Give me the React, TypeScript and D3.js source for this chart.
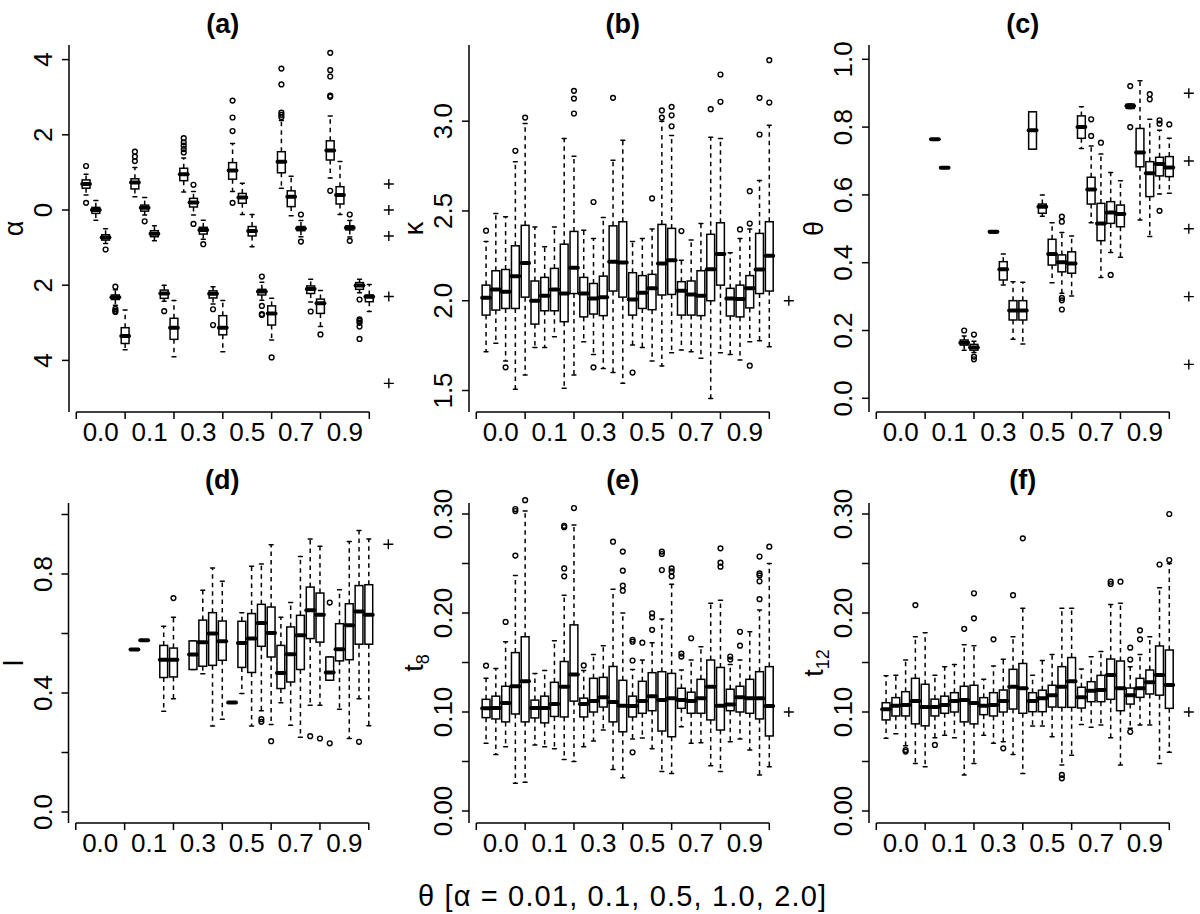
import React from "react";
import * as d3 from "d3";

// ---------------- DATA ----------------
const X_LABELS = ["0.0", "0.1", "0.3", "0.5", "0.7", "0.9"];

// each stat: [lowerWhisker, q1, median, q3, upperWhisker]; null = no box
type Stat = number[] | null;

// (a) log alpha
const A_STATS: Stat[] = [
  [0.40, 0.58, 0.69, 0.80, 0.95], [-0.27, -0.09, 0.0, 0.07, 0.25], [-0.89, -0.80, -0.73, -0.66, -0.50], [-2.53, -2.38, -2.32, -2.26, -2.12], [-3.72, -3.55, -3.35, -3.13, -2.66],
  [0.35, 0.56, 0.73, 0.83, 1.13], [-0.13, -0.03, 0.06, 0.13, 0.33], [-0.82, -0.71, -0.63, -0.55, -0.42], [-2.43, -2.35, -2.22, -2.13, -2.0], [-3.9, -3.44, -3.13, -2.88, -2.41],
  [0.48, 0.78, 0.95, 1.11, 1.38], [-0.13, 0.08, 0.20, 0.31, 0.49], [-0.78, -0.64, -0.53, -0.46, -0.27], [-2.50, -2.34, -2.23, -2.15, -2.04], [-3.77, -3.32, -3.13, -2.81, -2.41],
  [0.49, 0.82, 1.05, 1.26, 1.77], [-0.12, 0.18, 0.33, 0.44, 0.71], [-0.98, -0.69, -0.56, -0.44, -0.12], [-2.40, -2.26, -2.17, -2.11, -1.92], [-3.46, -3.06, -2.75, -2.55, -2.35],
  [0.58, 0.99, 1.28, 1.55, 2.38], [-0.15, 0.09, 0.35, 0.51, 0.90], [-0.71, -0.55, -0.49, -0.44, -0.28], [-2.45, -2.22, -2.10, -2.02, -1.84], [-3.10, -2.75, -2.48, -2.37, -2.14],
  [0.85, 1.33, 1.58, 1.84, 2.50], [-0.12, 0.16, 0.40, 0.62, 1.29], [-0.72, -0.53, -0.47, -0.42, -0.28], [-2.20, -2.11, -2.01, -1.93, -1.84], [-2.70, -2.44, -2.31, -2.26, -1.98],
];
const A_OUT: number[][] = [
  [1.17, 0.19], [], [-1.05], [-2.04, -2.63, -2.68, -2.71], [],
  [1.30, 1.42, 1.55], [-0.30], [], [-2.69], [],
  [1.53, 1.62, 1.71, 1.80, 1.91], [0.67, -0.37], [-0.91], [-2.64, -3.06], [],
  [2.10, 2.46, 2.91, 0.19], [], [], [-1.77, -2.55, -2.77, -2.79], [-3.92],
  [2.47, 2.53, 2.59, 3.34, 3.76], [], [-0.12, -0.84], [-2.70], [-3.31],
  [3.01, 3.04, 3.55, 3.72, 4.18, 0.51], [], [-0.12, -0.82], [-2.38, -2.91, -2.95, -3.0, -3.1, -3.43], [],
];
const A_TRUE = [0.69, 0.0, -0.69, -2.30, -4.61];

// (b) kappa
const B_STATS: Stat[] = [
  [1.716, 1.92, 2.017, 2.087, 2.33], [1.763, 1.948, 2.063, 2.167, 2.486], [1.664, 1.957, 2.05, 2.174, 2.468], [1.507, 1.957, 2.137, 2.306, 2.774], [1.586, 2.02, 2.21, 2.42, 2.987],
  [1.74, 1.87, 2.0, 2.11, 2.41], [1.74, 1.944, 2.028, 2.13, 2.30], [1.80, 1.944, 2.063, 2.18, 2.41], [1.512, 1.883, 2.04, 2.315, 2.904], [1.586, 2.04, 2.184, 2.386, 2.805],
  [1.772, 1.91, 2.04, 2.13, 2.393], [1.70, 1.926, 2.013, 2.096, 2.347], [1.623, 1.917, 2.019, 2.137, 2.464], [1.60, 2.054, 2.217, 2.417, 2.783], [1.54, 2.02, 2.213, 2.44, 2.894],
  [1.753, 1.92, 2.007, 2.156, 2.33], [1.74, 1.957, 2.045, 2.14, 2.347], [1.664, 1.95, 2.069, 2.147, 2.40], [1.636, 2.032, 2.208, 2.425, 3.0], [1.71, 2.035, 2.226, 2.403, 2.92],
  [1.725, 1.92, 2.056, 2.106, 2.226], [1.716, 1.92, 2.035, 2.11, 2.338], [1.68, 1.917, 2.028, 2.167, 2.43], [1.456, 2.0, 2.176, 2.37, 2.91], [1.71, 2.087, 2.26, 2.434, 2.904],
  [1.70, 1.915, 2.013, 2.069, 2.267], [1.67, 1.91, 2.009, 2.087, 2.347], [1.772, 1.96, 2.069, 2.14, 2.40], [1.777, 2.04, 2.174, 2.375, 2.67], [1.744, 2.054, 2.25, 2.44, 2.978],
];
const B_OUT: number[][] = [
  [2.39], [], [1.629], [2.835], [3.02],
  [], [], [], [], [3.043, 3.126, 3.169],
  [], [2.55, 1.629], [], [3.13], [],
  [1.60], [], [2.57], [3.02, 3.06], [2.972, 3.033, 3.08],
  [2.388], [], [], [3.067], [3.108, 3.26],
  [], [2.397], [2.43, 2.61, 1.638], [2.926, 3.13], [3.104, 3.34],
];
const B_TRUE = [2.0];

// (c) theta
const C_STATS: Stat[] = [
  null, null, null, null, null,
  [0.764, 0.764, 0.764, 0.764, 0.764], [0.68, 0.68, 0.68, 0.68, 0.68], null, [0.142, 0.157, 0.164, 0.172, 0.184], [0.135, 0.142, 0.150, 0.159, 0.168],
  null, [0.488, 0.488, 0.491, 0.494, 0.494], [0.334, 0.349, 0.381, 0.403, 0.426], [0.174, 0.231, 0.259, 0.288, 0.344], [0.160, 0.231, 0.259, 0.288, 0.342],
  [0.735, 0.735, 0.791, 0.845, 0.845], [0.537, 0.546, 0.565, 0.573, 0.60], [0.341, 0.393, 0.426, 0.469, 0.518], [0.31, 0.373, 0.401, 0.423, 0.489], [0.302, 0.369, 0.398, 0.432, 0.479],
  [0.737, 0.767, 0.80, 0.833, 0.86], [0.518, 0.573, 0.616, 0.652, 0.744], [0.356, 0.465, 0.516, 0.575, 0.721], [0.43, 0.516, 0.548, 0.58, 0.666], [0.416, 0.506, 0.544, 0.570, 0.642],
  [0.855, 0.855, 0.862, 0.868, 0.868], [0.526, 0.683, 0.725, 0.796, 0.937], [0.477, 0.595, 0.664, 0.698, 0.823], [0.603, 0.656, 0.691, 0.711, 0.791], [0.605, 0.654, 0.681, 0.713, 0.767],
];
const C_OUT: number[][] = [
  [], [], [], [], [],
  [], [], [], [0.20], [0.188, 0.123, 0.115],
  [], [], [], [], [],
  [], [], [], [0.536, 0.521, 0.296, 0.289, 0.262], [],
  [], [0.823, 0.774], [0.754], [0.364], [],
  [0.921, 0.80], [], [0.897, 0.882], [0.82, 0.81, 0.553], [0.808],
];
const C_TRUE = [0.9, 0.7, 0.5, 0.3, 0.1];

// (d) l
const D_STATS: Stat[] = [
  null, null, null, null, null,
  [0.546, 0.546, 0.546, 0.546, 0.546], [0.577, 0.577, 0.577, 0.577, 0.577], null, [0.339, 0.452, 0.512, 0.56, 0.624], [0.381, 0.454, 0.512, 0.551, 0.655],
  null, [0.479, 0.479, 0.529, 0.575, 0.575], [0.465, 0.49, 0.571, 0.645, 0.745], [0.289, 0.493, 0.60, 0.67, 0.82], [0.312, 0.51, 0.574, 0.642, 0.776],
  [0.368, 0.368, 0.368, 0.368, 0.368], [0.398, 0.486, 0.568, 0.641, 0.67], [0.289, 0.469, 0.583, 0.667, 0.826], [0.34, 0.557, 0.635, 0.698, 0.834], [0.294, 0.521, 0.602, 0.689, 0.898],
  [0.367, 0.415, 0.467, 0.56, 0.655], [0.292, 0.437, 0.530, 0.622, 0.704], [0.251, 0.479, 0.594, 0.661, 0.859], [0.359, 0.583, 0.678, 0.756, 0.918], [0.359, 0.571, 0.663, 0.736, 0.893],
  [0.443, 0.443, 0.469, 0.521, 0.521], [0.345, 0.508, 0.547, 0.633, 0.747], [0.247, 0.512, 0.628, 0.70, 0.909], [0.381, 0.564, 0.674, 0.761, 0.946], [0.29, 0.564, 0.663, 0.764, 0.918],
];
const D_OUT: number[][] = [
  [], [], [], [], [],
  [], [], [], [], [0.719],
  [], [], [], [], [],
  [], [], [], [0.312, 0.303], [0.238],
  [], [], [], [0.255], [0.247],
  [0.704, 0.231], [], [], [0.236], [],
];
const D_TRUE = [0.9];

// (e) t8
const E_STATS: Stat[] = [
  [0.0684, 0.0943, 0.1037, 0.1128, 0.134], [0.057, 0.093, 0.104, 0.116, 0.144], [0.065, 0.090, 0.109, 0.126, 0.171], [0.028, 0.098, 0.126, 0.160, 0.238], [0.029, 0.090, 0.131, 0.176, 0.303],
  [0.0667, 0.094, 0.104, 0.112, 0.139], [0.065, 0.089, 0.104, 0.116, 0.142], [0.063, 0.0955, 0.108, 0.13, 0.172], [0.052, 0.095, 0.1256, 0.151, 0.218], [0.05, 0.111, 0.138, 0.188, 0.289],
  [0.065, 0.095, 0.108, 0.114, 0.142], [0.0707, 0.100, 0.111, 0.134, 0.158], [0.0818, 0.105, 0.115, 0.135, 0.167], [0.042, 0.090, 0.110, 0.146, 0.224], [0.0337, 0.080, 0.1064, 0.132, 0.20],
  [0.0727, 0.095, 0.106, 0.116, 0.143], [0.0737, 0.0987, 0.111, 0.131, 0.1525], [0.063, 0.1013, 0.116, 0.1397, 0.170], [0.04, 0.0808, 0.112, 0.1407, 0.194], [0.038, 0.075, 0.1138, 0.139, 0.229],
  [0.085, 0.1037, 0.112, 0.124, 0.1424], [0.0684, 0.0987, 0.111, 0.120, 0.1525], [0.069, 0.0987, 0.114, 0.133, 0.166], [0.0458, 0.092, 0.1256, 0.1525, 0.2098], [0.04, 0.0818, 0.1064, 0.145, 0.213],
  [0.07, 0.1013, 0.1077, 0.123, 0.148], [0.0727, 0.100, 0.115, 0.126, 0.1525], [0.0616, 0.0987, 0.114, 0.133, 0.181], [0.0364, 0.093, 0.114, 0.1407, 0.203], [0.0448, 0.0758, 0.106, 0.1458, 0.250],
];
const E_OUT: number[][] = [
  [0.1468], [], [0.191], [0.258, 0.303, 0.305], [0.314],
  [], [], [], [0.237, 0.245, 0.2866, 0.288], [0.306],
  [0.147], [], [], [0.272], [0.2225, 0.2276, 0.2428, 0.262],
  [0.152, 0.171, 0.173, 0.0593], [0.170], [0.183, 0.1956, 0.1997], [0.2434, 0.2596, 0.262], [0.237, 0.242, 0.245],
  [0.156, 0.159], [0.1745], [], [], [0.2468, 0.2508, 0.2653],
  [0.153, 0.156], [0.167, 0.181], [], [0.214, 0.232, 0.238, 0.240, 0.257], [0.267],
];
const E_TRUE = [0.1];

// (f) t12
const F_STATS: Stat[] = [
  [0.0734, 0.092, 0.1027, 0.1094, 0.1367], [0.078, 0.096, 0.1064, 0.1145, 0.137], [0.066, 0.096, 0.107, 0.1205, 0.1525], [0.048, 0.088, 0.111, 0.134, 0.176], [0.0448, 0.086, 0.105, 0.128, 0.180],
  [0.074, 0.096, 0.105, 0.113, 0.137], [0.0764, 0.0987, 0.107, 0.116, 0.1457], [0.074, 0.100, 0.111, 0.1195, 0.148], [0.0364, 0.090, 0.112, 0.126, 0.168], [0.048, 0.088, 0.109, 0.127, 0.167],
  [0.0764, 0.0973, 0.1064, 0.1145, 0.133], [0.0684, 0.096, 0.107, 0.1195, 0.1464], [0.070, 0.100, 0.111, 0.1222, 0.1532], [0.057, 0.103, 0.1256, 0.1431, 0.176], [0.038, 0.0987, 0.124, 0.149, 0.2047],
  [0.0859, 0.1003, 0.111, 0.1195, 0.137], [0.0859, 0.1003, 0.114, 0.122, 0.152], [0.075, 0.105, 0.117, 0.127, 0.158], [0.0465, 0.1047, 0.1256, 0.1458, 0.2047], [0.0562, 0.1047, 0.131, 0.155, 0.2047],
  [0.0875, 0.104, 0.1148, 0.125, 0.1434], [0.0845, 0.1104, 0.1215, 0.1306, 0.1558], [0.0868, 0.1104, 0.1222, 0.137, 0.161], [0.074, 0.1128, 0.1374, 0.1535, 0.2087], [0.0465, 0.1013, 0.124, 0.1515, 0.2098],
  [0.0835, 0.108, 0.1168, 0.1242, 0.1457], [0.0868, 0.1148, 0.124, 0.134, 0.158], [0.0868, 0.1182, 0.13, 0.1424, 0.176], [0.048, 0.117, 0.1374, 0.1667, 0.2256], [0.0593, 0.1037, 0.1273, 0.1626, 0.25],
];
const F_OUT: number[][] = [
  [], [], [0.0616, 0.0600], [0.208], [],
  [0.0667], [], [], [0.184], [0.1946, 0.2199],
  [], [0.1734], [0.0633], [0.218], [0.2754],
  [], [], [], [0.0364, 0.033], [],
  [], [], [], [0.2293, 0.2316], [0.2316],
  [0.153, 0.165, 0.080], [0.1734, 0.1825], [], [0.249], [0.2535, 0.30],
];
const F_TRUE = [0.1];

// y-axis ticks and labels
const A_TICKS = [-4, -2, 0, 2, 4];
const A_TICK_LABELS = ["4", "2", "0", "2", "4"];
const B_TICKS = [1.5, 2.0, 2.5, 3.0];
const B_TICK_LABELS = ["1.5", "2.0", "2.5", "3.0"];
const C_TICKS = [0, 0.2, 0.4, 0.6, 0.8, 1.0];
const C_TICK_LABELS = ["0.0", "0.2", "0.4", "0.6", "0.8", "1.0"];
const D_TICKS = [0, 0.2, 0.4, 0.6, 0.8, 1.0];
const D_TICK_LABELS = ["0.0", "", "0.4", "", "0.8", ""];
const T_TICKS = [0, 0.05, 0.1, 0.15, 0.2, 0.25, 0.3];
const T_TICK_LABELS = ["0.00", "", "0.10", "", "0.20", "", "0.30"];

const X_TITLE = "θ [α = 0.01, 0.1, 0.5, 1.0, 2.0]";

// ---------------- LAYOUT ----------------
const FONT = "'Liberation Sans', Arial, Helvetica, sans-serif";
const ROWS = [
  { top: 45, bottom: 412, titleY: 33 },
  { top: 503, bottom: 823, titleY: 489 },
];

type PanelDef = {
  title: string;
  ylab: string;
  sub?: string;
  stats: Stat[];
  outs: number[][];
  truth: number[];
  axisX: number;
  row: number;
  domain: [number, number];
  range: [number, number];
  ticks: number[];
  tickLabels: string[];
};

const PANELS: PanelDef[] = [
  { title: "(a)", ylab: "α", stats: A_STATS, outs: A_OUT, truth: A_TRUE, axisX: 69, row: 0, domain: [-4, 4], range: [360.4, 59.6], ticks: A_TICKS, tickLabels: A_TICK_LABELS },
  { title: "(b)", ylab: "κ", stats: B_STATS, outs: B_OUT, truth: B_TRUE, axisX: 469, row: 0, domain: [1.5, 3.0], range: [390.5, 121.2], ticks: B_TICKS, tickLabels: B_TICK_LABELS },
  { title: "(c)", ylab: "θ", stats: C_STATS, outs: C_OUT, truth: C_TRUE, axisX: 869, row: 0, domain: [0, 1], range: [398.3, 59.3], ticks: C_TICKS, tickLabels: C_TICK_LABELS },
  { title: "(d)", ylab: "l", stats: D_STATS, outs: D_OUT, truth: D_TRUE, axisX: 68.5, row: 1, domain: [0, 1], range: [812, 514.5], ticks: D_TICKS, tickLabels: D_TICK_LABELS },
  { title: "(e)", ylab: "t", sub: "8", stats: E_STATS, outs: E_OUT, truth: E_TRUE, axisX: 469, row: 1, domain: [0, 0.3], range: [811, 514], ticks: T_TICKS, tickLabels: T_TICK_LABELS },
  { title: "(f)", ylab: "t", sub: "12", stats: F_STATS, outs: F_OUT, truth: F_TRUE, axisX: 869, row: 1, domain: [0, 0.3], range: [811, 514], ticks: T_TICKS, tickLabels: T_TICK_LABELS },
];

const LW = 1.5;

function Panel({ p }: { p: PanelDef }) {
  const row = ROWS[p.row];
  const x0 = p.axisX + 7.3;
  const xs = d3.scaleLinear().domain([0, 30]).range([x0, x0 + 293]);
  const ys = d3.scaleLinear().domain(p.domain).range(p.range);
  const step = xs(1) - xs(0);
  const bw = step * 0.8;
  const cw = bw * 0.5;
  const groupTicks = d3.range(0, 31, 5);
  const midY = (row.top + row.bottom) / 2;

  return (
    <g>
      {/* title */}
      <text x={xs(15)} y={row.titleY} textAnchor="middle" fontFamily={FONT} fontWeight="bold" fontSize={27}>
        {p.title}
      </text>
      {/* y axis */}
      <line x1={p.axisX} x2={p.axisX} y1={row.top} y2={row.bottom} stroke="#000" strokeWidth={LW} />
      {p.ticks.map((t, i) => (
        <g key={"yt" + i}>
          <line x1={p.axisX - 7} x2={p.axisX} y1={ys(t)} y2={ys(t)} stroke="#000" strokeWidth={LW} />
          {p.tickLabels[i] !== "" && (
            <text transform={`translate(${p.axisX - 17},${ys(t)}) rotate(-90)`} textAnchor="middle" fontFamily={FONT} fontSize={26}>
              {p.tickLabels[i]}
            </text>
          )}
        </g>
      ))}
      {/* y label */}
      <text transform={`translate(${p.axisX - 46},${midY}) rotate(-90)`} textAnchor="middle" fontFamily={FONT} fontSize={27}>
        <tspan>{p.ylab}</tspan>
        {p.sub && (
          <tspan dy={6} fontSize={18}>
            {p.sub}
          </tspan>
        )}
      </text>
      {/* x axis */}
      <line x1={xs(0)} x2={xs(30)} y1={row.bottom} y2={row.bottom} stroke="#000" strokeWidth={LW} />
      {groupTicks.map((t) => (
        <line key={"xt" + t} x1={xs(t)} x2={xs(t)} y1={row.bottom} y2={row.bottom + 7} stroke="#000" strokeWidth={LW} />
      ))}
      {X_LABELS.map((l, i) => (
        <text key={"xl" + i} x={xs(i * 5 + 2.5)} y={row.bottom + 29} textAnchor="middle" fontFamily={FONT} fontSize={26}>
          {l}
        </text>
      ))}
      {/* boxes */}
      {p.stats.map((s, i) => {
        const cx = xs(i + 1);
        const outs = p.outs[i] || [];
        return (
          <g key={"b" + i}>
            {s && (
              <g>
                <line x1={cx} x2={cx} y1={ys(s[3])} y2={ys(s[4])} stroke="#000" strokeWidth={LW} strokeDasharray="4.5,4" />
                <line x1={cx} x2={cx} y1={ys(s[1])} y2={ys(s[0])} stroke="#000" strokeWidth={LW} strokeDasharray="4.5,4" />
                <line x1={cx - cw / 2} x2={cx + cw / 2} y1={ys(s[4])} y2={ys(s[4])} stroke="#000" strokeWidth={LW} strokeLinecap="round" />
                <line x1={cx - cw / 2} x2={cx + cw / 2} y1={ys(s[0])} y2={ys(s[0])} stroke="#000" strokeWidth={LW} strokeLinecap="round" />
                <rect x={cx - bw / 2} width={bw} y={ys(s[3])} height={Math.max(0, ys(s[1]) - ys(s[3]))} fill="#fff" stroke="#000" strokeWidth={LW} />
                <line x1={cx - bw / 2} x2={cx + bw / 2} y1={ys(s[2])} y2={ys(s[2])} stroke="#000" strokeWidth={4} strokeLinecap="round" />
              </g>
            )}
            {outs.map((o, j) => (
              <circle key={j} cx={cx} cy={ys(o)} r={2.4} fill="none" stroke="#000" strokeWidth={1.4} />
            ))}
          </g>
        );
      })}
      {/* true values */}
      {p.truth.map((v, i) => {
        const px = xs(32);
        const py = ys(v);
        return (
          <path key={"tv" + i} d={`M${px - 5},${py}H${px + 5}M${px},${py - 5}V${py + 5}`} stroke="#000" strokeWidth={1.4} fill="none" />
        );
      })}
    </g>
  );
}

export default function App() {
  return (
    <svg width={1200} height={914} style={{ position: "absolute", left: 0, top: 0, background: "#fff" }}>
      <rect width={1200} height={914} fill="#fff" />
      {PANELS.map((p, i) => (
        <Panel key={i} p={p} />
      ))}
      <text x={418} y={906} fontFamily={FONT} fontSize={29} textLength={408} lengthAdjust="spacing">
        {X_TITLE}
      </text>
    </svg>
  );
}
